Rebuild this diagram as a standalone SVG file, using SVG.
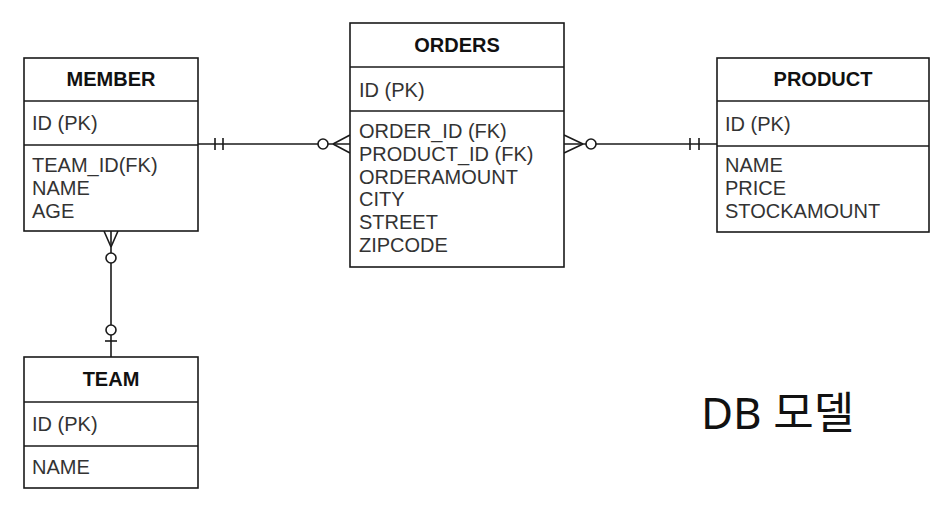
<svg xmlns="http://www.w3.org/2000/svg" width="947" height="512" viewBox="0 0 947 512">
<style>
.box{fill:#fff;stroke:#1a1a1a;stroke-width:1.6}
.sep{stroke:#1a1a1a;stroke-width:1.6}
.hdr{font-family:"Liberation Sans",Arial,sans-serif;font-size:20px;font-weight:bold;fill:#111;text-anchor:middle}
.fld{font-family:"Liberation Sans",Arial,sans-serif;font-size:20px;fill:#333}
.ln{fill:none;stroke:#1a1a1a;stroke-width:1.6}
.ci{fill:#fff;stroke:#1a1a1a;stroke-width:1.6}
</style>
<rect width="947" height="512" fill="#fff"/>
<g id="connectors">
  <!-- MEMBER - ORDERS -->
  <line class="ln" x1="198" y1="144" x2="350" y2="144"/>
  <line class="ln" x1="215" y1="138" x2="215" y2="150"/>
  <line class="ln" x1="223" y1="138" x2="223" y2="150"/>
  <path class="ln" d="M333,144 L350,135 M333,144 L350,153"/>
  <circle class="ci" cx="323" cy="144" r="5"/>
  <!-- ORDERS - PRODUCT -->
  <line class="ln" x1="564" y1="144" x2="717" y2="144"/>
  <line class="ln" x1="690" y1="138" x2="690" y2="150"/>
  <line class="ln" x1="699" y1="138" x2="699" y2="150"/>
  <path class="ln" d="M583,144 L564,135 M583,144 L564,153"/>
  <circle class="ci" cx="591" cy="144" r="5"/>
  <!-- MEMBER - TEAM -->
  <line class="ln" x1="111" y1="231" x2="111" y2="357"/>
  <path class="ln" d="M111,247 L104,231 M111,247 L118,231"/>
  <circle class="ci" cx="111" cy="258" r="5"/>
  <circle class="ci" cx="111" cy="330" r="5"/>
  <line class="ln" x1="105" y1="341" x2="117" y2="341"/>
</g>
<g id="member">
  <rect class="box" x="24" y="58" width="174" height="173"/>
  <line class="sep" x1="24" y1="101" x2="198" y2="101"/>
  <line class="sep" x1="24" y1="145" x2="198" y2="145"/>
  <text class="hdr" x="111" y="86">MEMBER</text>
  <text class="fld" x="32" y="130">ID (PK)</text>
  <text class="fld" x="32" y="172">TEAM_ID(FK)</text>
  <text class="fld" x="32" y="195">NAME</text>
  <text class="fld" x="32" y="218">AGE</text>
</g>
<g id="orders">
  <rect class="box" x="350" y="23" width="214" height="244"/>
  <line class="sep" x1="350" y1="67" x2="564" y2="67"/>
  <line class="sep" x1="350" y1="111" x2="564" y2="111"/>
  <text class="hdr" x="457" y="52">ORDERS</text>
  <text class="fld" x="359" y="97">ID (PK)</text>
  <text class="fld" x="359" y="138">ORDER_ID (FK)</text>
  <text class="fld" x="359" y="161">PRODUCT_ID (FK)</text>
  <text class="fld" x="359" y="184">ORDERAMOUNT</text>
  <text class="fld" x="359" y="206">CITY</text>
  <text class="fld" x="359" y="229">STREET</text>
  <text class="fld" x="359" y="252">ZIPCODE</text>
</g>
<g id="product">
  <rect class="box" x="717" y="58" width="212" height="174"/>
  <line class="sep" x1="717" y1="101" x2="929" y2="101"/>
  <line class="sep" x1="717" y1="146" x2="929" y2="146"/>
  <text class="hdr" x="823" y="86">PRODUCT</text>
  <text class="fld" x="725" y="131">ID (PK)</text>
  <text class="fld" x="725" y="172">NAME</text>
  <text class="fld" x="725" y="195">PRICE</text>
  <text class="fld" x="725" y="218">STOCKAMOUNT</text>
</g>
<g id="team">
  <rect class="box" x="24" y="357" width="174" height="131"/>
  <line class="sep" x1="24" y1="402" x2="198" y2="402"/>
  <line class="sep" x1="24" y1="446" x2="198" y2="446"/>
  <text class="hdr" x="111" y="386">TEAM</text>
  <text class="fld" x="32" y="431">ID (PK)</text>
  <text class="fld" x="32" y="474">NAME</text>
</g>
<g id="title">
  <text x="701" y="429" font-family="'Noto Sans','Noto Sans CJK KR',sans-serif" font-size="44" fill="#111">DB 모델</text>
</g>
</svg>
